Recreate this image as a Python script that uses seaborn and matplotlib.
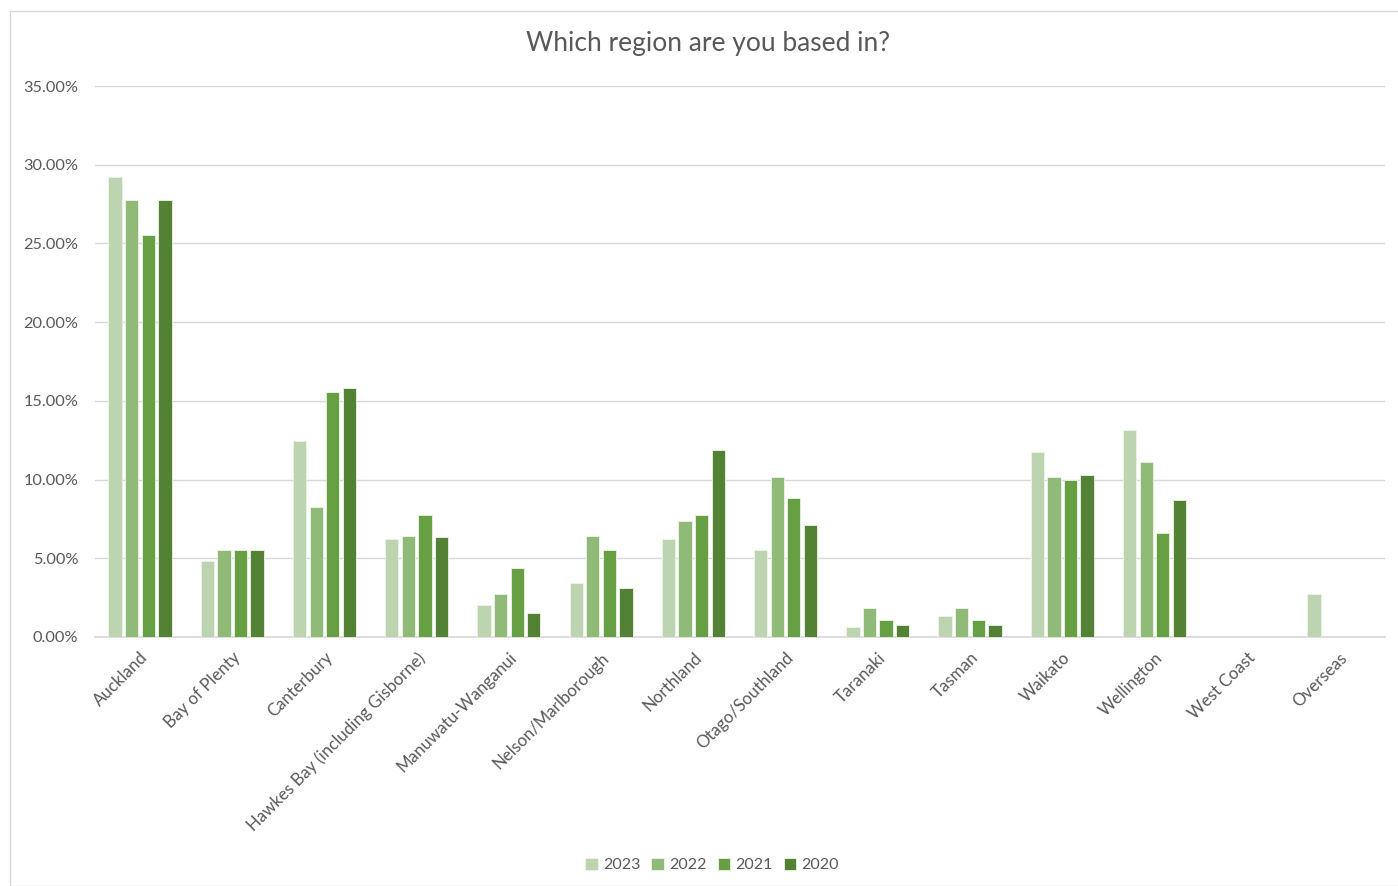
import matplotlib
matplotlib.use("Agg")
import matplotlib.pyplot as plt
import seaborn as sns
import pandas as pd
from matplotlib.patches import Rectangle
from matplotlib.ticker import FuncFormatter, MultipleLocator

regions = ["Auckland", "Bay of Plenty", "Canterbury", "Hawkes Bay (including Gisborne)",
           "Manuwatu-Wanganui", "Nelson/Marlborough", "Northland", "Otago/Southland",
           "Taranaki", "Tasman", "Waikato", "Wellington", "West Coast", "Overseas"]
years = ["2023", "2022", "2021", "2020"]
v2023 = [29.2, 4.83, 12.45, 6.2, 2.03, 3.45, 6.2, 5.5, 0.64, 1.33, 11.77, 13.15, 0.0, 2.73]
v2022 = [27.76, 5.52, 8.28, 6.43, 2.73, 6.43, 7.37, 10.16, 1.82, 1.82, 10.14, 11.1, 0.0, 0.0]
v2021 = [25.54, 5.52, 15.56, 7.75, 4.38, 5.5, 7.75, 8.85, 1.06, 1.06, 9.95, 6.63, 0.0, 0.0]
v2020 = [27.76, 5.52, 15.82, 6.33, 1.54, 3.13, 11.88, 7.11, 0.74, 0.74, 10.27, 8.7, 0.0, 0.0]
colors = ["#BDD4B0", "#8FBA77", "#66A042", "#548235"]

rows = []
for yr, vals in zip(years, [v2023, v2022, v2021, v2020]):
    for r, v in zip(regions, vals):
        rows.append({"Region": r, "Year": yr, "Value": v})
df = pd.DataFrame(rows)

sns.set_theme(style="white")
plt.rcParams['font.family'] = ['Lato', 'DejaVu Sans']

fig = plt.figure(figsize=(13.98, 8.86), dpi=100)
ax = fig.add_axes([95/1398, 1-637/886, 1290/1398, 551/886])

sns.barplot(data=df, x="Region", y="Value", hue="Year", hue_order=years,
            order=regions, palette=colors, saturation=1, width=0.72, gap=0.2,
            edgecolor="#EEF4EA", linewidth=0.6, ax=ax, legend=True, zorder=3)

ax.set_ylim(0, 35)
ax.set_xlim(-0.488, 13.50)
ax.yaxis.set_major_locator(MultipleLocator(5))
ax.yaxis.set_major_formatter(FuncFormatter(lambda v, p: f"{v:.2f}%"))
ax.grid(axis="y", color="#D9D9D9", linewidth=1, zorder=0)
ax.set_axisbelow(True)
for s in ["top", "right", "left"]:
    ax.spines[s].set_visible(False)
ax.spines["bottom"].set_color("#D9D9D9")
ax.set_xlabel("")
ax.set_ylabel("")
ax.tick_params(axis="y", colors="#595959", labelsize=11.8, length=0, pad=12)
ax.tick_params(axis="x", colors="#595959", labelsize=12.2, length=0, pad=9)
plt.setp(ax.get_xticklabels(), rotation=45, ha="right", rotation_mode="anchor")

fig.suptitle("Which region are you based in?", x=708/1398, y=1-44/886, va="center",
             fontsize=19, color="#595959")

ax.legend(loc="center", bbox_to_anchor=(712/1398, 1-865/886), bbox_transform=fig.transFigure,
          ncol=4, frameon=False, fontsize=11.5, handlelength=0.8, handleheight=0.8,
          handletextpad=0.3, columnspacing=0.7, labelcolor="#595959", title=None)

fig.patches.append(Rectangle((10/1398, 0), 1.2, 1-11/886, transform=fig.transFigure,
                             fill=False, edgecolor="#D9D9D9", linewidth=1))

fig.savefig("out.png", dpi=100, facecolor="white")
